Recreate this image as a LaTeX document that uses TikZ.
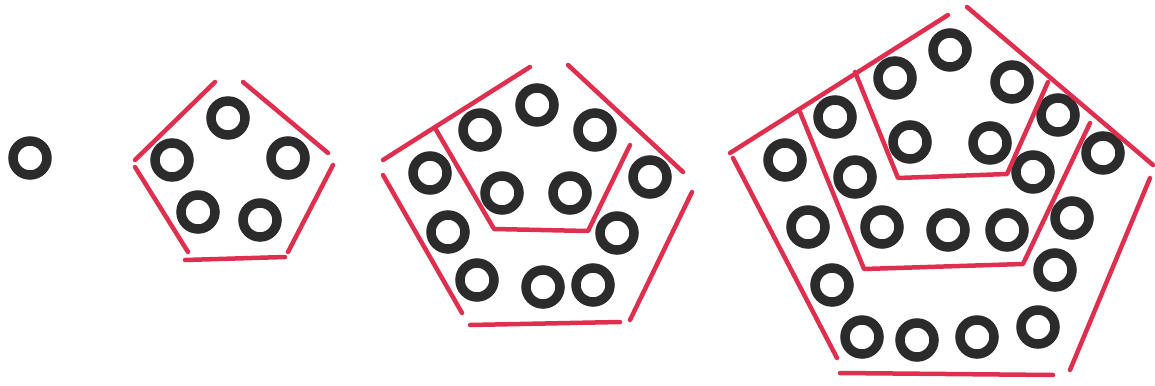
\documentclass[tikz,border=0pt]{standalone}
\begin{document}
\begin{tikzpicture}[x=1pt,y=-1pt,
  dot/.style={circle,draw=ink,line width=9.5pt,minimum size=34pt,inner sep=0pt},
  pen/.style={draw=penred,line width=4.5pt,line cap=round,line join=round}]
\definecolor{ink}{HTML}{2B2B2B}
\definecolor{penred}{HTML}{DF2F4E}
\useasboundingbox (0,0) rectangle (1155,385);
% figure 1
\node[dot] (a1) at (30,158) {};
% figure 2
\foreach \n/\x/\y in {1/228/118,2/172/160,3/288/158,4/198/212,5/260/220}
  \node[dot] (b\n) at (\x,\y) {};
\draw[pen] (135,160) -- (215,82);
\draw[pen] (243,82) -- (328,153);
\draw[pen] (135,167) -- (188,252);
\draw[pen] (333,165) -- (288,252);
\draw[pen] (185,260) -- (285,257);
% figure 3
\foreach \n/\x/\y in {1/537/105,2/480/130,3/595/130,4/430/173,5/502/193,6/570/193,7/650/177,8/448/232,9/617/233,10/477/280,11/543/287,12/593/285}
  \node[dot] (c\n) at (\x,\y) {};
\draw[pen] (383,160) -- (530,67);
\draw[pen] (568,65) -- (683,172);
\draw[pen] (383,175) -- (462,313);
\draw[pen] (692,192) -- (630,320);
\draw[pen] (470,325) -- (620,322);
\draw[pen] (435,128) -- (494,229) -- (588,231) -- (630,145);
% figure 4
\foreach \n/\x/\y in {1/950/50,2/895/78,3/1012/82,4/835/117,5/1058/115,6/785/160,7/910/142,8/990/143,9/1103/153,10/855/177,11/1033/172,12/808/227,13/882/227,14/948/230,15/1007/230,16/1072/218,17/832/285,18/1055/270,19/862/337,20/917/340,21/977/337,22/1038/327}
  \node[dot] (d\n) at (\x,\y) {};
\draw[pen] (730,153) -- (948,15);
\draw[pen] (967,7) -- (1153,165);
\draw[pen] (733,158) -- (837,358);
\draw[pen] (1150,178) -- (1070,370);
\draw[pen] (840,373) -- (1053,375);
\draw[pen] (800,112) -- (864,269) -- (1023,264) -- (1090,123);
\draw[pen] (855,72) -- (898,178) -- (1007,174) -- (1048,82);
\end{tikzpicture}
\end{document}
